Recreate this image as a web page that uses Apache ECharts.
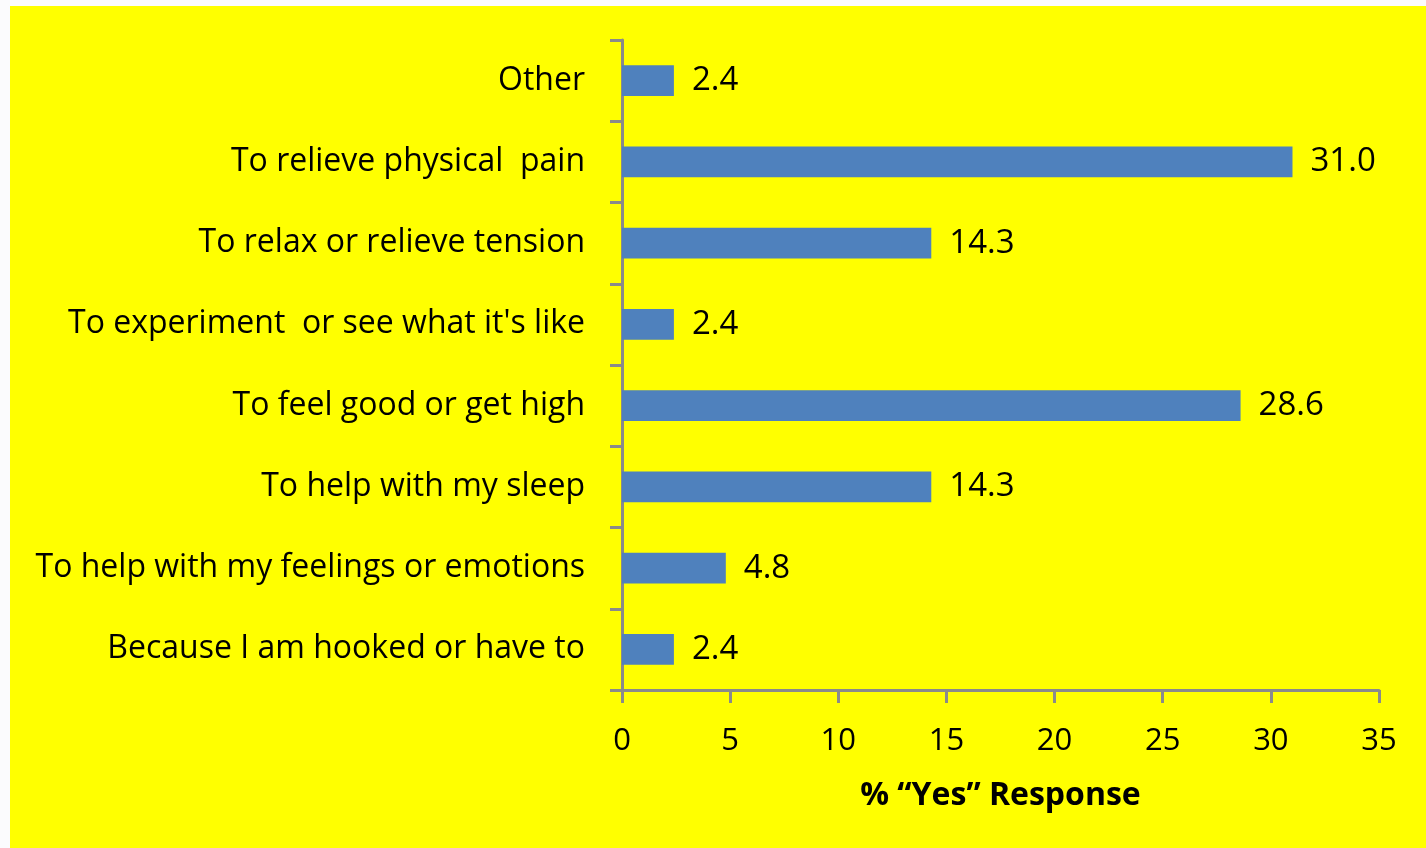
<!DOCTYPE html>
<html>
<head>
<meta charset="utf-8">
<script src="https://cdn.jsdelivr.net/npm/echarts@6/dist/echarts.min.js"></script>
<style>
  html, body { margin: 0; padding: 0; background: #fbfbfd; }
  #chart { position: absolute; left: 10px; top: 6px; width: 1416px; height: 842px; background: #ffff00; }
</style>
</head>
<body>
<div id="chart"></div>
<script>
// categories listed top to bottom
const categories = [
  'Other',
  'To relieve physical  pain',
  'To relax or relieve tension',
  "To experiment  or see what it's like",
  'To feel good or get high',
  'To help with my sleep',
  'To help with my feelings or emotions',
  'Because I am hooked or have to'
]
const values = [2.4, 31.0, 14.3, 2.4, 28.6, 14.3, 4.8, 2.4]
const xTicks = [0, 35, 5] // min, max, interval
const axisTitle = '% \u201cYes\u201d Response'

const chart = echarts.init(document.getElementById('chart'))
const axisColor = '#8a8a8a'
const font = '"Open Sans", Lato, sans-serif'

chart.setOption({
  animation: false,
  grid: { left: 612, right: 47, top: 34, bottom: 158 },
  xAxis: {
    type: 'value',
    min: xTicks[0],
    max: xTicks[1],
    interval: xTicks[2],
    name: axisTitle,
    nameLocation: 'middle',
    nameGap: 90,
    nameTextStyle: { fontFamily: font, fontSize: 32, fontWeight: 'bold', color: '#000' },
    axisLine: { show: true, lineStyle: { color: axisColor, width: 3 } },
    axisTick: { show: true, length: 13, lineStyle: { color: axisColor, width: 3 } },
    axisLabel: { fontFamily: font, fontSize: 31, color: '#000', margin: 36 },
    splitLine: { show: false }
  },
  yAxis: {
    type: 'category',
    inverse: true,
    data: categories,
    axisLine: { show: true, lineStyle: { color: axisColor, width: 3 } },
    axisTick: { show: true, length: 12, lineStyle: { color: axisColor, width: 3 } },
    axisLabel: { fontFamily: font, fontSize: 32, color: '#000', margin: 37, padding: [6, 0, 0, 0] }
  },
  series: [{
    type: 'bar',
    data: values,
    barWidth: '38%',
    itemStyle: { color: '#4f81bd' },
    label: {
      show: true,
      position: 'right',
      distance: 18,
      padding: [6, 0, 0, 0],
      fontFamily: font,
      fontSize: 33,
      color: '#000',
      formatter: (p) => p.value.toFixed(1)
    }
  }]
})
</script>
</body>
</html>
